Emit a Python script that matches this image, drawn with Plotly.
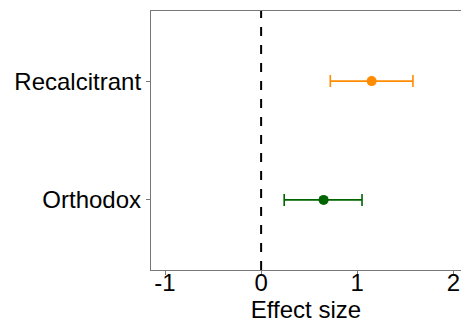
import plotly.graph_objects as go

categories = ["Orthodox", "Recalcitrant"]
effect = [0.65, 1.15]
lower = [0.24, 0.72]
upper = [1.05, 1.58]
colors = ["#006400", "#FF8C00"]
xticks = [-1, 0, 1, 2]

fig = go.Figure()
for i, cat in enumerate(categories):
    fig.add_trace(go.Scatter(
        x=[effect[i]], y=[i + 1], mode="markers",
        marker=dict(color=colors[i], size=10),
        error_x=dict(type="data", symmetric=False,
                     array=[upper[i] - effect[i]], arrayminus=[effect[i] - lower[i]],
                     color=colors[i], thickness=1.6, width=6),
        showlegend=False, name=cat))

fig.add_shape(type="line", x0=0, x1=0, y0=0, y1=1, yref="paper", xref="x",
              line=dict(color="black", width=2, dash="dash"))

fig.update_layout(
    width=461, height=324,
    margin=dict(l=151, r=0, t=11, b=54),
    plot_bgcolor="white", paper_bgcolor="white",
    font=dict(family="Liberation Sans, Arial, sans-serif", color="black", size=24),
    xaxis=dict(range=[-1.146, 2.08], tickvals=xticks, ticktext=[str(t) for t in xticks],
               showgrid=False, zeroline=False, showline=True, mirror=True,
               linecolor="#777", linewidth=1.3, ticks="outside", ticklen=4,
               tickcolor="#777", tickfont=dict(size=24), ticklabelstandoff=-13,
               title=dict(text="Effect size", font=dict(size=24), standoff=2)),
    yaxis=dict(range=[0.41, 2.59], tickvals=[1, 2], ticktext=categories,
               showgrid=False, zeroline=False, showline=True, mirror=False,
               linecolor="#777", linewidth=1.3, ticks="outside", ticklen=4,
               tickcolor="#777", tickfont=dict(size=24)),
)

fig.write_html("out.html")
